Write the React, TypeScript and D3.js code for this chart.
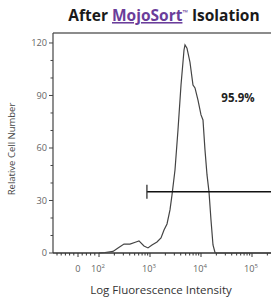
import * as d3 from "d3";

// histogram: fluorescence intensity vs relative cell count
const intensity = [
  100, 131, 188, 236, 309, 405, 531, 608, 762, 913, 1094, 1371, 1643, 1883, 2155,
  2466, 2698, 3090, 3538, 4055, 4645, 4856, 5310, 6081, 6966, 7625, 8730, 10000,
  10940, 11970, 13120, 14350, 15700, 17190, 18820, 20000, 300000,
];
const cellCount = [
  0, 0.3, 0.9, 2.9, 5.1, 5.1, 6.3, 6.9, 4.0, 2.9, 4.6, 6.3, 8.6, 13.1, 16.6,
  24.6, 33.1, 47.4, 70.3, 96, 116, 118.9, 117, 109, 96, 94.3, 87.4, 78.9,
  76, 58.9, 44.6, 34.9, 18.9, 4.6, 0.3, 0, 0,
];

const yTicks = [0, 30, 60, 90, 120];
const yMinor = [10, 20, 40, 50, 70, 80, 100, 110];
const xDecades = [2, 3, 4, 5];
const zeroRegionTicks = [-100, -80, -60, -40, -20, 0, 20, 40, 60, 80];

const gateStart = 870;
const gateLevel = 35;
const gateLabel = "95.9%";

const W = 271;
const H = 300;
const left = 53;
const top = 33;
const bottom = 253;
const right = 290;

export default function App() {
  const y = d3.scaleLinear().domain([0, 125.7]).range([bottom, top]);
  const xLog = d3.scaleLog().domain([100, 1e5]).range([99, 252]);
  const xLin = d3.scaleLinear().domain([0, 100]).range([xLog(100) - 21, xLog(100)]);
  const x = (v: number) => (v >= 100 ? xLog(v) : xLin(v));

  const line = d3
    .line<number>()
    .x((_, i) => x(intensity[i]))
    .y((d) => y(d))
    .curve(d3.curveLinear);

  const minorX: number[] = [];
  xDecades.slice(0, 3).forEach((e) => {
    for (let m = 2; m <= 9; m++) minorX.push(m * Math.pow(10, e));
  });
  for (let m = 2; m <= 3; m++) minorX.push(m * 1e5);

  const font = "'Open Sans', Lato, sans-serif";

  return (
    <svg
      width={W}
      height={H}
      style={{ position: "absolute", left: 0, top: 0, background: "#fff" }}
    >
      <text
        x={164}
        y={21}
        textAnchor="middle"
        fontFamily={font}
        fontWeight="bold"
        fontSize={15.5}
        fill="#1a1a1a"
      >
        After{" "}
        <tspan fill="#6a3d9a" textDecoration="underline">
          MojoSort
        </tspan>
        <tspan fontSize={7} dy={-6} fill="#6a3d9a">
          ™
        </tspan>
        <tspan dy={6}> Isolation</tspan>
      </text>

      {/* frame */}
      <line x1={left} x2={right} y1={top} y2={top} stroke="#666" strokeWidth={1.3} />
      <line x1={left} x2={left} y1={top} y2={bottom} stroke="#444" strokeWidth={1.2} />

      {/* y axis */}
      {yTicks.map((t) => (
        <g key={t}>
          <line x1={left - 4} x2={left} y1={y(t)} y2={y(t)} stroke="#444" />
          <text
            x={left - 6}
            y={y(t) + 3.2}
            textAnchor="end"
            fontFamily={font}
            fontSize={9.2}
            fill="#666"
          >
            {t}
          </text>
        </g>
      ))}
      {yMinor.map((t) => (
        <line key={t} x1={left - 2.5} x2={left} y1={y(t)} y2={y(t)} stroke="#444" />
      ))}
      <text
        transform={`translate(15,149) rotate(-90)`}
        textAnchor="middle"
        fontFamily={font}
        fontSize={9.5}
        fill="#444"
      >
        Relative Cell Number
      </text>

      {/* x axis */}
      <line x1={left} x2={right} y1={bottom} y2={bottom} stroke="#333" strokeWidth={1.4} />
      {zeroRegionTicks.map((t) => (
        <line
          key={"z" + t}
          x1={xLin(t)}
          x2={xLin(t)}
          y1={bottom}
          y2={bottom + (t === 0 ? 4 : 2.5)}
          stroke="#333"
        />
      ))}
      {xDecades.map((e) => (
        <line
          key={"d" + e}
          x1={xLog(Math.pow(10, e))}
          x2={xLog(Math.pow(10, e))}
          y1={bottom}
          y2={bottom + 4}
          stroke="#333"
        />
      ))}
      {minorX.map((v) => (
        <line key={"m" + v} x1={xLog(v)} x2={xLog(v)} y1={bottom} y2={bottom + 2.5} stroke="#333" />
      ))}
      <text x={xLin(0)} y={272} textAnchor="middle" fontFamily={font} fontSize={9.2} fill="#666">
        0
      </text>
      {xDecades.map((e) => (
        <text
          key={"l" + e}
          x={xLog(Math.pow(10, e)) - 1}
          y={272}
          textAnchor="middle"
          fontFamily={font}
          fontSize={9.2}
          fill="#666"
        >
          10
          <tspan fontSize={6} dy={-4}>
            {e}
          </tspan>
        </text>
      ))}
      <text x={161} y={294} textAnchor="middle" fontFamily={font} fontSize={11.5} fill="#333">
        Log Fluorescence Intensity
      </text>

      {/* histogram */}
      <path d={line(cellCount) ?? ""} fill="none" stroke="#444" strokeWidth={1.2} />

      {/* gate */}
      <line x1={x(gateStart)} x2={right} y1={y(gateLevel)} y2={y(gateLevel)} stroke="#111" strokeWidth={1.5} />
      <line
        x1={x(gateStart)}
        x2={x(gateStart)}
        y1={y(gateLevel) - 7}
        y2={y(gateLevel) + 7}
        stroke="#333"
        strokeWidth={1.3}
      />
      <text x={238} y={102} textAnchor="middle" fontFamily={font} fontWeight="bold" fontSize={11.5} fill="#222">
        {gateLabel}
      </text>
    </svg>
  );
}
